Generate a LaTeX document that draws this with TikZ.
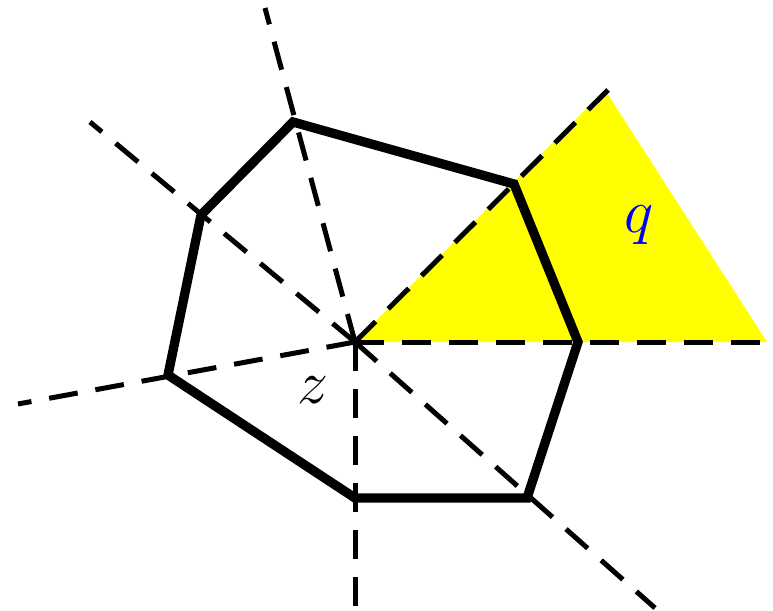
\RequirePackage{fix-cm}
\documentclass[tikz,border=0pt]{standalone}
\definecolor{qyellow}{RGB}{255,255,0}
\begin{document}
\begin{tikzpicture}[x=1pt,y=-1pt,
  ray/.style={line width=5pt,dash pattern=on 29pt off 18pt},
  poly/.style={line width=9.3pt,line join=miter},
  lbl/.style={inner sep=0pt,font=\fontsize{62}{62}\selectfont}]
\useasboundingbox (0,0) rectangle (773,610);
\coordinate (z) at (355,342);
\coordinate (v1) at (293,122);
\coordinate (v2) at (514,184);
\coordinate (v3) at (578,342);
\coordinate (v4) at (527,498);
\coordinate (v5) at (355,498);
\coordinate (v6) at (168,375);
\coordinate (v7) at (201,215);
\coordinate (e1) at (265,8);
\coordinate (e2) at (608,90);
\coordinate (e3) at (767,342);
\coordinate (e4) at (655,608);
\coordinate (e5) at (355,610);
\coordinate (e6) at (18,404);
\coordinate (e7) at (90,122);
\coordinate (t) at (605,90);
\fill[qyellow] (z) -- (t) -- (e3) -- cycle;
\foreach \i in {1,...,7} \draw[ray] (z) -- (e\i);
\draw[poly] (v1) -- (v2) -- (v3) -- (v4) -- (v5) -- (v6) -- (v7) -- cycle;
\node[lbl] (zl) at (313,390) {$z$};
\node[lbl,text=blue] (ql) at (639,225) {$q$};
\end{tikzpicture}
\end{document}
